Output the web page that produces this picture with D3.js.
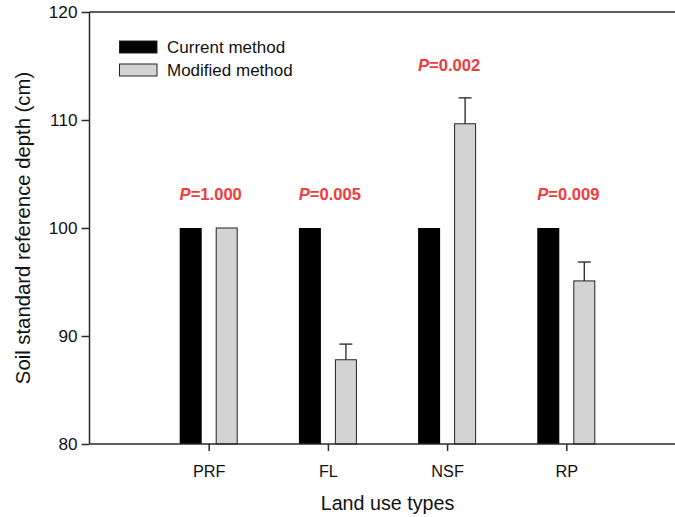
<!DOCTYPE html>
<html>
<head>
<meta charset="utf-8">
<script src="https://cdn.jsdelivr.net/npm/d3@7"></script>
<style>
  html, body { margin: 0; padding: 0; background: #fff; }
  svg { display: block; font-family: "Liberation Sans", Arial, sans-serif; }
</style>
</head>
<body>
<svg id="chart" width="675" height="517"></svg>
<script>
// ---- data ----
const categories = ["PRF", "FL", "NSF", "RP"];
const currentValues = [100, 100, 100, 100];
const modifiedValues = [100, 87.8, 109.65, 95.1];
const modifiedErrors = [0, 1.45, 2.4, 1.75];
const pValues = ["1.000", "0.005", "0.002", "0.009"];
const pLabelY = [102.6, 102.6, 114.5, 102.6];
const yTicks = [80, 90, 100, 110, 120];
const seriesNames = ["Current method", "Modified method"];

// ---- layout ----
const W = 675, H = 517;
const plotLeft = 89.5, plotTop = 12, plotBottom = 444;
const step = 119.2;
const svg = d3.select("#chart");

const x = d3.scaleLinear().domain([0, 5]).range([plotLeft, plotLeft + 5 * step]);
const y = d3.scaleLinear().domain([80, 120]).range([plotBottom, plotTop]);
const barW = 22, off = 18;
const grayFill = "#d3d3d3";
const axisColor = "#2a2a2a";

// bars: current
svg.append("g").selectAll("rect").data(categories).join("rect")
  .attr("x", (d, i) => x(i + 1) - off - barW / 2)
  .attr("y", (d, i) => y(currentValues[i]))
  .attr("width", barW)
  .attr("height", (d, i) => y(80) - y(currentValues[i]))
  .attr("fill", "#000");

// error bars
const eg = svg.append("g").attr("stroke", "#333").attr("stroke-width", 1.4);
categories.forEach((c, i) => {
  if (modifiedErrors[i] <= 0) return;
  const cx = x(i + 1) + off;
  const yt = y(modifiedValues[i] + modifiedErrors[i]);
  eg.append("line").attr("x1", cx).attr("x2", cx)
    .attr("y1", y(modifiedValues[i])).attr("y2", yt);
  eg.append("line").attr("x1", cx - 6.5).attr("x2", cx + 6.5)
    .attr("y1", yt).attr("y2", yt);
});

// bars: modified
svg.append("g").selectAll("rect").data(categories).join("rect")
  .attr("x", (d, i) => x(i + 1) + off - barW / 2 + 0.5)
  .attr("y", (d, i) => y(modifiedValues[i]))
  .attr("width", barW - 1)
  .attr("height", (d, i) => y(80) - y(modifiedValues[i]))
  .attr("fill", grayFill)
  .attr("stroke", "#222")
  .attr("stroke-width", 1);

// y axis
const yAxis = svg.append("g").attr("transform", `translate(${plotLeft},0)`)
  .call(d3.axisLeft(y).tickValues(yTicks).tickSize(8).tickPadding(4).tickFormat(d3.format("d")));
yAxis.select(".domain").attr("stroke", axisColor).attr("stroke-width", 1.5)
  .attr("d", `M0,${plotTop}V${plotBottom}`);
yAxis.selectAll(".tick line").attr("stroke", axisColor).attr("stroke-width", 1.5);
yAxis.selectAll(".tick text").attr("fill", "#111").style("font-size", "17.2px")
  .style("font-family", "Liberation Sans, Arial, sans-serif");

// x axis
const xAxis = svg.append("g").attr("transform", `translate(0,${plotBottom})`)
  .call(d3.axisBottom(x).tickValues([1, 2, 3, 4]).tickSize(7).tickPadding(14)
    .tickFormat(d => categories[d - 1]));
xAxis.select(".domain").attr("stroke", axisColor).attr("stroke-width", 1.5)
  .attr("d", `M${plotLeft},0H${x(5)}`);
xAxis.selectAll(".tick line").attr("stroke", axisColor).attr("stroke-width", 1.5);
xAxis.selectAll(".tick text").attr("fill", "#111").style("font-size", "16.3px")
  .style("font-family", "Liberation Sans, Arial, sans-serif");

// top frame line
svg.append("line").attr("x1", plotLeft).attr("x2", x(5))
  .attr("y1", plotTop).attr("y2", plotTop)
  .attr("stroke", axisColor).attr("stroke-width", 1.5);

// axis titles
svg.append("text").attr("x", (plotLeft + x(5)) / 2).attr("y", 510)
  .attr("text-anchor", "middle").style("font-size", "19.7px").attr("fill", "#111")
  .text("Land use types");
svg.append("text").attr("transform", `translate(30,${(plotTop + plotBottom) / 2}) rotate(-90)`)
  .attr("text-anchor", "middle").style("font-size", "20.3px").attr("fill", "#111")
  .text("Soil standard reference depth (cm)");

// P labels
const pg = svg.append("g");
categories.forEach((c, i) => {
  const t = pg.append("text").attr("x", x(i + 1) + 2).attr("y", y(pLabelY[i]))
    .attr("text-anchor", "middle").attr("fill", "#f03c3c")
    .style("font-size", "16.6px").style("font-weight", "bold");
  t.append("tspan").style("font-style", "italic").text("P");
  t.append("tspan").text("=" + pValues[i]);
});

// legend
const lg = svg.append("g");
const fills = ["#000", grayFill];
seriesNames.forEach((s, i) => {
  lg.append("rect").attr("x", 119.5).attr("y", 41 + i * 23)
    .attr("width", 37.5).attr("height", 12)
    .attr("fill", fills[i]).attr("stroke", "#222").attr("stroke-width", 1);
  lg.append("text").attr("x", 167).attr("y", 53 + i * 23)
    .style("font-size", "17px").attr("fill", "#111").text(s);
});
</script>
</body>
</html>
